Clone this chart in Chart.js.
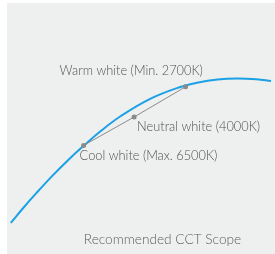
<!DOCTYPE html>
<html><head><meta charset="utf-8">
<style>html,body{margin:0;padding:0;background:#fff;}#wrap{width:275px;height:254px;position:relative;}</style>
<script src="https://cdn.jsdelivr.net/npm/chart.js@4"></script>
</head><body><div id="wrap"><canvas id="c" width="275" height="254"></canvas></div>
<script>
// Planckian-locus-like curve (x, height above bottom)
const curveX = [7, 20, 33, 50, 67, 82, 100, 120, 150, 180, 200, 220, 240, 260, 275];
const curveY = [28, 43.6, 58.4, 76.8, 93.8, 107.6, 123.1, 138.1, 155.8, 167.8, 173, 176, 177, 176.2, 174.5];
// CCT points
const pointLabels = ["Cool white (Max. 6500K)", "Neutral white (4000K)", "Warm white (Min. 2700K)"];
const pointX = [82, 134, 187];
const pointY = [108, 137.3, 168.5];
const caption = "Recommended CCT Scope";

const FONT = "Lato, 'Open Sans', sans-serif";
const labelOffsets = [[-4, 10.5], [3, 9.5], [-126, -16]];

const panelPlugin = {
  id: 'panel',
  beforeDraw(chart) {
    const ctx = chart.ctx;
    ctx.save();
    ctx.fillStyle = '#eeefef';
    ctx.fillRect(7, 3, 268, 251);
    ctx.restore();
  },
  afterDraw(chart) {
    const ctx = chart.ctx;
    const xs = chart.scales.x, ys = chart.scales.y;
    ctx.save();
    ctx.font = "300 12.8px " + FONT;
    ctx.fillStyle = '#505050';
    ctx.textBaseline = 'middle';
    ctx.textAlign = 'left';
    pointLabels.forEach((t, i) => {
      const px = xs.getPixelForValue(pointX[i]);
      const py = ys.getPixelForValue(pointY[i]);
      ctx.fillText(t, px + labelOffsets[i][0], py + labelOffsets[i][1]);
    });
    ctx.fillStyle = '#5e5e5e';
    ctx.font = "300 13.7px " + FONT;
    ctx.textAlign = 'center';
    ctx.fillText(caption, 162.5, 240);
    ctx.restore();
  }
};

new Chart(document.getElementById('c'), {
  type: 'scatter',
  data: {
    datasets: [
      {
        data: curveX.map((x, i) => ({x, y: curveY[i]})),
        showLine: true,
        borderColor: '#1ba1e6',
        borderWidth: 2,
        pointRadius: 0,
        tension: 0.4,
        fill: false,
        order: 2
      },
      {
        data: pointX.map((x, i) => ({x, y: pointY[i]})),
        showLine: true,
        borderColor: '#8c8c8c',
        borderWidth: 1,
        pointRadius: 2.5,
        pointBackgroundColor: '#8a8a8a',
        pointBorderWidth: 0,
        order: 1
      }
    ]
  },
  options: {
    responsive: false,
    animation: false,
    layout: {padding: 0},
    plugins: {legend: {display: false}, tooltip: {enabled: false}},
    scales: {
      x: {type: 'linear', min: 0, max: 275, display: false},
      y: {type: 'linear', min: 0, max: 254, display: false}
    },
    clip: false
  },
  plugins: [panelPlugin]
});
</script></body></html>
